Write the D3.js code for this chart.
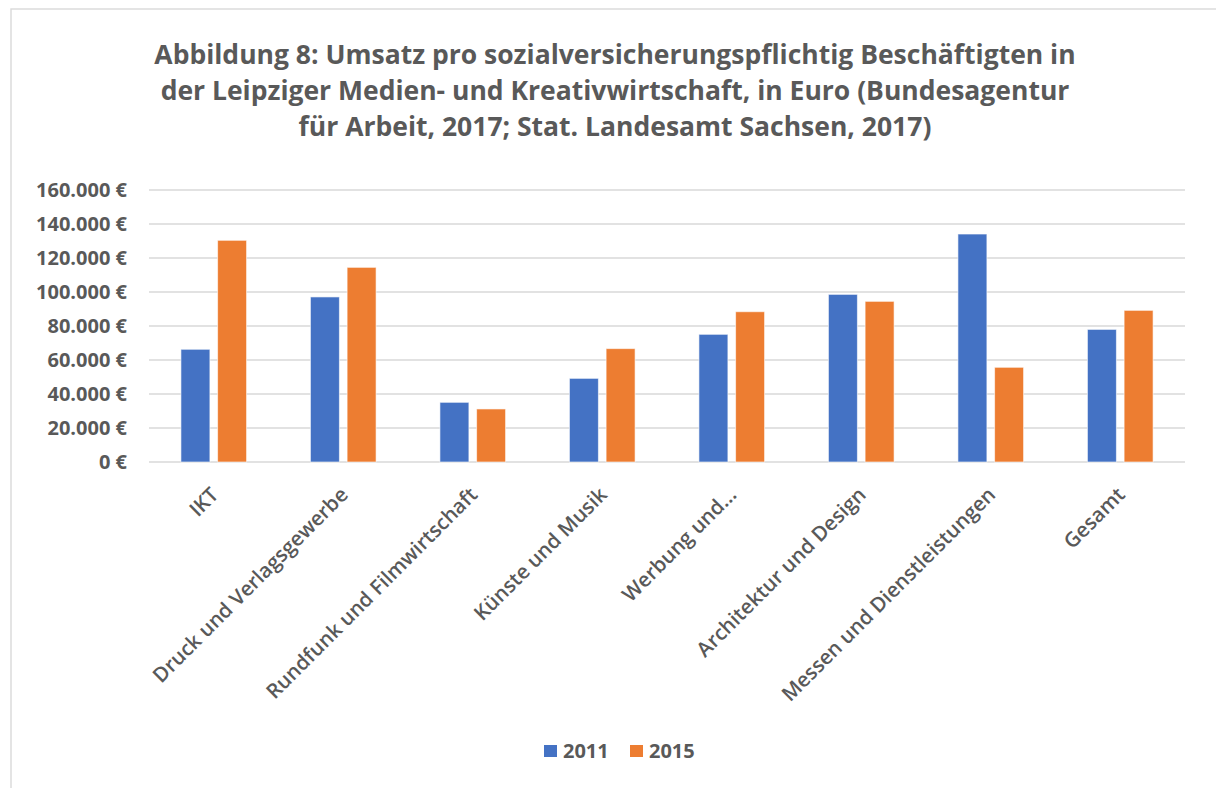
<!DOCTYPE html>
<html>
<head>
<meta charset="utf-8">
<script src="https://cdn.jsdelivr.net/npm/d3@7"></script>
<style>
  body { margin: 0; background: #fff; }
  svg { display: block; }
  text { fill: #595959; }
</style>
</head>
<body>
<svg id="chart" width="1216" height="788"></svg>
<script>
var titleLines = [
    'Abbildung 8: Umsatz pro sozialversicherungspflichtig Beschäftigten in',
    'der Leipziger Medien- und Kreativwirtschaft, in Euro (Bundesagentur',
    'für Arbeit, 2017; Stat. Landesamt Sachsen, 2017)'
];
var categories = ['IKT', 'Druck und Verlagsgewerbe', 'Rundfunk und Filmwirtschaft', 'Künste und Musik',
    'Werbung und...', 'Architektur und Design', 'Messen und Dienstleistungen', 'Gesamt'];
var seriesNames = ['2011', '2015'];
var values2011 = [66300, 97100, 35100, 49200, 75100, 98600, 134100, 78000];
var values2015 = [130400, 114500, 31200, 66700, 88400, 94500, 55700, 89200];
var yTicks = [0, 20000, 40000, 60000, 80000, 100000, 120000, 140000, 160000];
var colors = ['#4472c4', '#ed7d31'];

var svg = d3.select('#chart');

// outer frame (only left/top visible in the picture)
svg.append('rect')
    .attr('x', 11).attr('y', 9)
    .attr('width', 1400).attr('height', 1000)
    .attr('fill', 'none')
    .attr('stroke', '#d9d9d9')
    .attr('stroke-width', 1.4);

svg.append('g')
    .selectAll('text')
    .data(titleLines)
    .enter()
    .append('text')
        .attr('x', 615)
        .attr('y', function(d, i) { return 64 + 36 * i; })
        .attr('text-anchor', 'middle')
        .style('font-family', '"Open Sans", sans-serif')
        .style('font-weight', 700)
        .style('font-size', '26.5px')
        .text(function(d) { return d; });

var plotLeft = 149, plotRight = 1185, plotTop = 190, plotBottom = 462;

var x0 = d3.scaleBand()
    .domain(categories)
    .range([plotLeft, plotRight])
    .paddingInner(0.493)
    .paddingOuter(0.2465);

var x1 = d3.scaleBand()
    .domain(seriesNames)
    .range([0, x0.bandwidth()])
    .paddingInner(0.21);

var y = d3.scaleLinear()
    .domain([0, 160000])
    .range([plotBottom, plotTop]);

var de = d3.formatLocale({decimal: ',', thousands: '.', grouping: [3], currency: ['', ' €']});
var fmt = de.format('$,.0f');

// gridlines
svg.append('g')
    .selectAll('line')
    .data(yTicks)
    .enter()
    .append('line')
        .attr('x1', plotLeft).attr('x2', plotRight)
        .attr('y1', function(d) { return y(d); })
        .attr('y2', function(d) { return y(d); })
        .attr('stroke', '#d9d9d9')
        .attr('stroke-width', 1.4);

var yAxis = svg.append('g')
    .attr('transform', 'translate(' + (plotLeft - 22) + ',0)')
    .call(d3.axisLeft(y).tickValues(yTicks).tickFormat(fmt).tickSize(0).tickPadding(0));
yAxis.select('.domain').remove();
yAxis.selectAll('text')
    .style('font-family', '"Open Sans", sans-serif')
    .style('font-weight', 700)
    .style('font-size', '20px')
    .style('fill', '#595959');

var rows = categories.map(function(c, i) {
    return {cat: c, vals: [values2011[i], values2015[i]]};
});

var groups = svg.append('g')
    .selectAll('g')
    .data(rows)
    .enter()
    .append('g')
        .attr('transform', function(d) { return 'translate(' + x0(d.cat) + ',0)'; });

groups.selectAll('rect')
    .data(function(d) {
        return d.vals.map(function(v, k) { return {name: seriesNames[k], value: v, k: k}; });
    })
    .enter()
    .append('rect')
        .attr('x', function(d) { return x1(d.name); })
        .attr('width', x1.bandwidth())
        .attr('y', function(d) { return y(d.value); })
        .attr('height', function(d) { return plotBottom - y(d.value); })
        .attr('fill', function(d) { return colors[d.k]; })
        .attr('stroke', '#ffffff')
        .attr('stroke-opacity', 0.6)
        .attr('stroke-width', 1);

// category labels, rotated
svg.append('g')
    .selectAll('text')
    .data(categories)
    .enter()
    .append('text')
        .attr('transform', function(d) {
            var cx = x0(d) + x0.bandwidth() / 2;
            return 'translate(' + (cx + 6) + ',' + (plotBottom + 34) + ') rotate(-45)';
        })
        .attr('text-anchor', 'end')
        .style('font-family', '"Open Sans", sans-serif')
        .style('font-weight', 600)
        .style('font-size', '20.5px')
        .text(function(d) { return d; });

// legend
var legend = svg.append('g')
    .selectAll('g')
    .data(seriesNames)
    .enter()
    .append('g')
        .attr('transform', function(d, i) { return 'translate(' + (544 + 86 * i) + ',745)'; });
legend.append('rect')
    .attr('width', 13).attr('height', 12)
    .attr('fill', function(d, i) { return colors[i]; });
legend.append('text')
    .attr('x', 19).attr('y', 13)
    .style('font-family', '"Open Sans", sans-serif')
    .style('font-weight', 700)
    .style('font-size', '20px')
    .text(function(d) { return d; });
</script>
</body>
</html>
